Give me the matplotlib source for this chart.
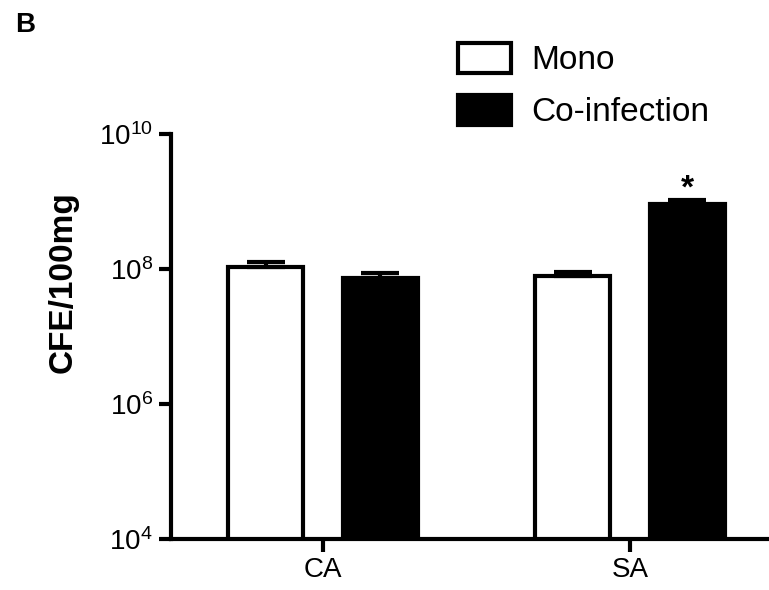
import matplotlib
matplotlib.use("Agg")
import matplotlib.pyplot as plt
import numpy as np
from matplotlib.patches import Patch

plt.rcParams['font.family'] = ['Liberation Sans', 'DejaVu Sans']
plt.rcParams['mathtext.default'] = 'regular'

categories = ['CA', 'SA']
mono = [1.07e8, 7.9e7]
mono_err = [2.0e7, 1.1e7]
coinf = [7.4e7, 9.2e8]
coinf_err = [1.3e7, 1.3e8]
yticks = [1e4, 1e6, 1e8, 1e10]
ytick_labels = ['$10^4$', '$10^6$', '$10^8$', '$10^{10}$']

fig = plt.figure(figsize=(7.69, 5.90), dpi=100)
ax = fig.add_axes([171/769, 1 - 539/590, 1 - 171/769, (539 - 134)/590])

x = np.arange(len(categories))
w = 0.245
off = 0.187
lw = 3.0
ax.set_yscale('log')
ax.bar(x - off, mono, w, color='white', edgecolor='black', linewidth=lw, zorder=2)
ax.bar(x + off, coinf, w, color='black', edgecolor='black', linewidth=lw, zorder=2)
ax.errorbar(x - off, mono, yerr=[np.zeros(2), mono_err], fmt='none', ecolor='black',
            elinewidth=3, capsize=14, capthick=3, zorder=3)
ax.errorbar(x + off, coinf, yerr=[np.zeros(2), coinf_err], fmt='none', ecolor='black',
            elinewidth=3, capsize=14, capthick=3, zorder=3)

ax.annotate('*', xy=(x[1] + off, coinf[1] + coinf_err[1]), xytext=(0, -3),
            textcoords='offset points', ha='center', va='bottom', fontsize=24,
            fontweight='bold')

ax.set_ylim(1e4, 1e10)
ax.set_xlim(-0.495, 1.453)
ax.set_yticks(yticks)
ax.set_yticklabels(ytick_labels)
ax.yaxis.set_minor_locator(matplotlib.ticker.NullLocator())
ax.set_xticks(x)
ax.set_xticklabels(categories)
ax.tick_params(axis='both', which='major', labelsize=20, width=3, length=9, pad=4,
               colors='black')
for s in ['top', 'right']:
    ax.spines[s].set_visible(False)
for s in ['left', 'bottom']:
    ax.spines[s].set_linewidth(3)
ax.set_ylabel('CFE/100mg', fontsize=24, fontweight='bold')
ax.yaxis.set_label_coords(-0.155, 0.635)

handles = [Patch(facecolor='white', edgecolor='black', linewidth=3, label='Mono'),
           Patch(facecolor='black', edgecolor='black', linewidth=3, label='Co-infection')]
fig.legend(handles=handles, loc='upper left', bbox_to_anchor=(458/769, 1 - 43/590),
           frameon=False, fontsize=24, handlelength=1.6, handleheight=1.0,
           handletextpad=0.6, labelspacing=0.55, borderpad=0, borderaxespad=0)

fig.text(15/769, 1 - 12/590, 'B', fontsize=20, fontweight='bold', va='top', ha='left')

fig.savefig('out.png', dpi=100)
